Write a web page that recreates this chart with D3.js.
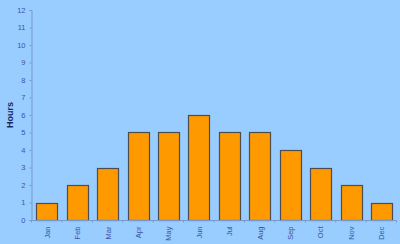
<!DOCTYPE html>
<html><head><meta charset="utf-8">
<script src="https://cdn.jsdelivr.net/npm/d3@7"></script>
<style>html,body{margin:0;padding:0;background:#99ccff;}svg{display:block;}</style>
</head><body>
<script>
const categories = ["Jan","Feb","Mar","Apr","May","Jun","Jul","Aug","Sep","Oct","Nov","Dec"];
const hours = [1,2,3,5,5,6,5,5,4,3,2,1];
const yTicks = [0,1,2,3,4,5,6,7,8,9,10,11,12];

const W = 400, H = 244;
const svg = d3.select("body").append("svg").attr("width", W).attr("height", H);
svg.append("rect").attr("width", W).attr("height", H).attr("fill", "#99ccff");

const x = d3.scaleBand().domain(categories).range([31.5, 396.5]).paddingInner(0.32).paddingOuter(0.16);
const y = d3.scaleLinear().domain([0, 12]).range([220, 10]);

svg.selectAll("rect.bar").data(hours).enter().append("rect")
  .attr("class", "bar")
  .attr("x", (d, i) => Math.round(x(categories[i])) + 0.5)
  .attr("y", d => Math.round(y(d)) + 0.5)
  .attr("width", Math.round(x.bandwidth()))
  .attr("height", d => Math.round(y(0)) - Math.round(y(d)))
  .attr("fill", "#ff9900").attr("stroke", "#4d4d4d").attr("stroke-width", 1.2);

const axisColor = "#7799cc";
const textColor = "#3b55a3";

// y axis
const yAxis = svg.append("g").attr("transform", "translate(31.5,0)")
  .call(d3.axisLeft(y).tickValues(yTicks).tickSize(2).tickPadding(4).tickFormat(d3.format("d")));
yAxis.select(".domain").attr("stroke", axisColor);
yAxis.selectAll(".tick line").attr("stroke", axisColor);
yAxis.selectAll("text").attr("fill", textColor).attr("font-family", "Arial, 'Liberation Sans', sans-serif").attr("font-size", 7.5);

// x axis
const xAxis = svg.append("g").attr("transform", "translate(0,220.5)");
xAxis.append("line").attr("x1", 31.5).attr("x2", 396.5).attr("y1", 0).attr("y2", 0).attr("stroke", axisColor);
const bounds = d3.range(categories.length + 1).map(i => 31.5 + i * (365 / 12));
xAxis.selectAll("line.tk").data(bounds).enter().append("line")
  .attr("x1", d => d).attr("x2", d => d).attr("y1", 0).attr("y2", 2).attr("stroke", axisColor);
xAxis.selectAll("text").data(categories).enter().append("text")
  .attr("transform", d => `translate(${x(d) + x.bandwidth() / 2 + 3},6) rotate(-90)`)
  .attr("text-anchor", "end")
  .attr("fill", textColor)
  .attr("font-family", "Arial, 'Liberation Sans', sans-serif").attr("font-size", 7.5)
  .text(d => d);

// y label
svg.append("text").attr("transform", "translate(13,115) rotate(-90)")
  .attr("text-anchor", "middle").attr("font-weight", "bold")
  .attr("font-family", "Arial, 'Liberation Sans', sans-serif").attr("font-size", 9)
  .attr("fill", "#1a2a66").text("Hours");
</script>
</body></html>
